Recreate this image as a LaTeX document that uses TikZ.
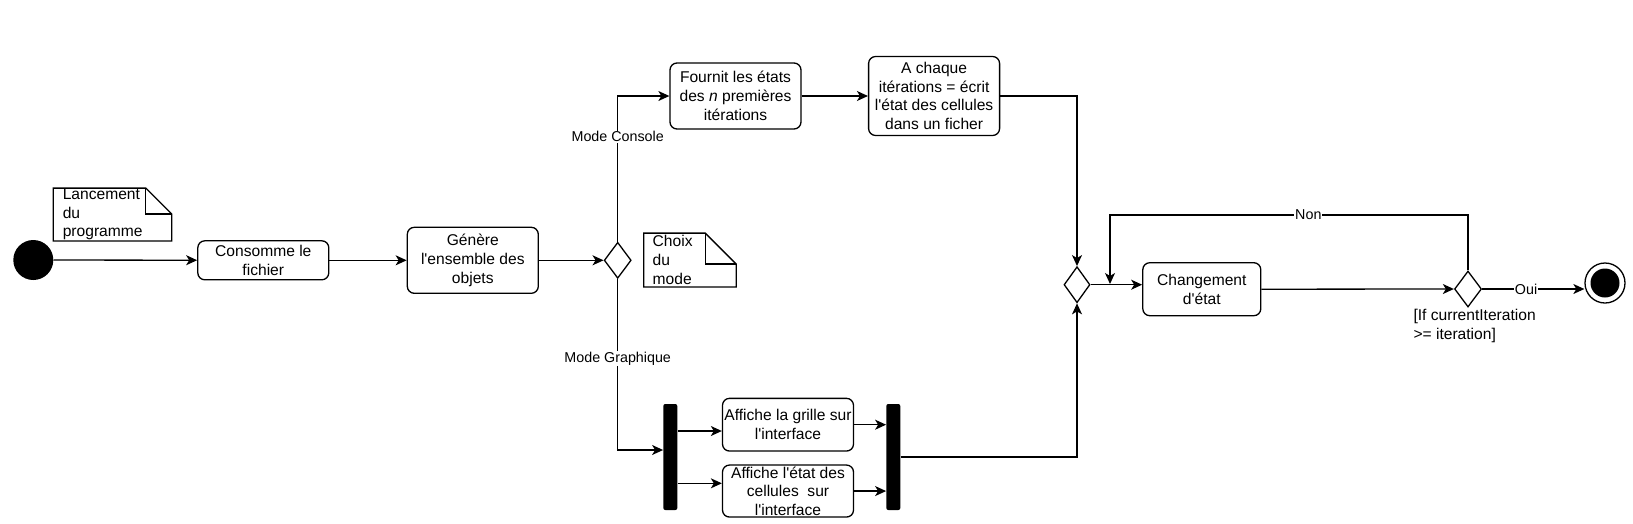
\documentclass[tikz,border=0pt]{standalone}
\usepackage{fontspec}
\setmainfont{Liberation Sans}[Ligatures=TeXOff]
\usepackage{tikz}
\usetikzlibrary{positioning}
\usetikzlibrary{shapes.geometric}
\usetikzlibrary{arrows.meta}

\newcommand{\boxfont}{\fontsize{15.6}{18.7}\selectfont}
\newcommand{\lblfont}{\fontsize{14.3}{17}\selectfont}

\begin{document}
\begin{tikzpicture}[x=1pt, y=-1pt]

        \def\lw{1.3pt}

        % Styles of the activity diagram
        \tikzset{
            act/.style={draw, rounded corners=7pt, line width=\lw, align=center, inner sep=0pt, font=\boxfont, minimum width=131pt},
            choice/.style={diamond, draw, line width=\lw, inner sep=0pt, minimum width=27pt, minimum height=36pt},
            bar/.style={fill=black, rounded corners=2pt, inner sep=0pt, minimum width=14pt, minimum height=106pt},
            notebox/.style={inner sep=0pt, align=left, font=\boxfont},
            lbl/.style={fill=white, inner sep=1pt, font=\lblfont},
            arr/.style={-{Stealth[length=11pt, width=10pt, inset=3pt]}, line width=\lw}
        }

        \useasboundingbox (0, 0) rectangle (1633, 523);

        % Nodes, y goes down as in the picture
        \begin{scope}
            \node (I) [circle, fill=black, minimum size=40pt, inner sep=0pt] at (33.3, 260) {};
            \node (N1) [notebox, text width=99.4pt, inner xsep=9.4pt, minimum height=52.4pt] at (112.5, 214.5) {Lancement\\du\\programme};
            \node (C) [act, minimum height=39pt] at (263.3, 260.3) {Consomme le\\fichier};
            \node (G) [act, minimum height=66pt] at (472.8, 260.3) {Génère\\l'ensemble des\\objets};
            \node (D1) [choice] at (617.7, 260.3) {};
            \node (N2) [notebox, text width=74.6pt, inner xsep=8.7pt, minimum height=53.4pt] at (690, 260) {Choix\\du\\mode};

            \node (F) [act, minimum height=66pt] at (735.5, 96) {Fournit les états\\des \textit{n} premières\\itérations};
            \node (A) [act, minimum height=79pt, right=66.3pt of F] {A chaque\\itérations = écrit\\l'état des cellules\\dans un ficher};

            \node (B1) [bar] at (670.3, 457) {};
            \node (L) [act, minimum height=52.7pt] at (788, 424.7) {Affiche la grille sur\\l'interface};
            \node (E) [act, minimum height=52pt, below=12.7pt of L] {Affiche l'état des\\cellules\ \ sur\\l'interface};
            \node (B2) [bar] at (893.3, 457) {};

            \node (D2) [choice, minimum width=26pt] at (1077, 284.7) {};
            \node (Ch) [act, minimum width=118pt, minimum height=53pt] at (1201.8, 289.2) {Changement\\d'état};
            \node (D3) [choice] at (1468, 289) {};
            \node (If) [anchor=west, align=left, inner sep=0pt, font=\boxfont] at (1413.3, 326.2) {[If currentIteration\\>= iteration]};
            \node (Fin) [circle, draw, line width=\lw, minimum size=40pt, inner sep=0pt] at (1605, 283) {};
            \node (FinIn) [circle, fill=black, minimum size=29pt, inner sep=0pt] at (Fin) {};

            \coordinate (R) at (1110, 284);
        \end{scope}

        % Folded corner of the notes
        \foreach \n/\f in {N1/26, N2/31} {
            \draw[line width=\lw] (\n.north west) -- ([xshift=-\f pt]\n.north east) -- ([yshift=-\f pt]\n.north east) -- (\n.south east) -- (\n.south west) -- cycle;
            \draw[line width=\lw] ([xshift=-\f pt]\n.north east) -- ([xshift=-\f pt, yshift=-\f pt]\n.north east) -- ([yshift=-\f pt]\n.north east);
        }

        \begin{scope}[arr]
            \draw (I) -- (C);
            \draw (C) -- (G);
            \draw (G) -- (D1);

            \draw (D1.north) |- node[lbl, pos=0.36] {Mode Console} (F.west);
            \draw (F) -- (A);
            \draw (A.east) -| (D2.north);

            \draw (D1.south) |- node[lbl, pos=0.232] {Mode Graphique} ([yshift=7pt]B1.west);
            \draw ([yshift=26pt]B1.east) -- ([yshift=26pt]B1.east -| L.west);
            \draw ([yshift=-26.3pt]B1.east) -- ([yshift=-26.3pt]B1.east -| E.west);
            \draw (L.east) -- (L.east -| B2.west);
            \draw (E.east) -- (E.east -| B2.west);
            \draw (B2.east) -| (D2.south);

            \draw (D2.east) -- (D2.east -| Ch.west);
            \draw (Ch.east) -- (D3.west);
            \draw (D3.east) -- node[lbl, pos=0.43] {Oui} (D3.east -| Fin.west);
            \draw (D3.north) -- ++(0, -55.3) -| node[lbl, pos=0.223] {Non} (R);
        \end{scope}

\end{tikzpicture}
\end{document}
